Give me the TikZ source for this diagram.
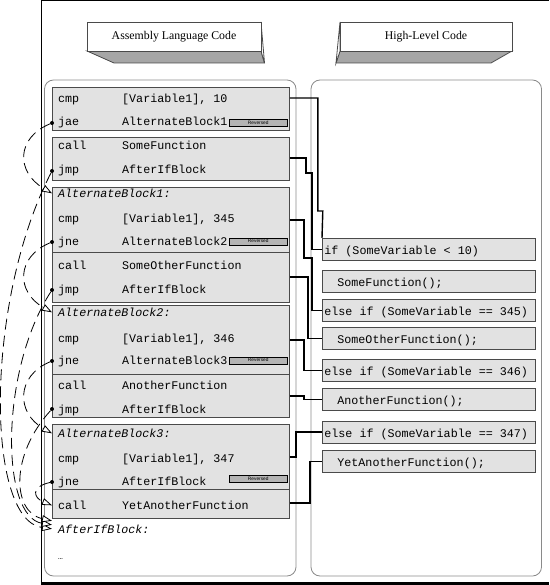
\documentclass[tikz,border=0pt]{standalone}
\usepackage{fontspec}
\setmainfont{Liberation Serif}
\setmonofont{Liberation Mono}
\setsansfont{Liberation Sans}
\usetikzlibrary{arrows.meta,calc}

\definecolor{blockgray}{HTML}{E2E2E2}
\definecolor{edgegray}{HTML}{4A4A4A}
\definecolor{panelgray}{HTML}{8A8A8A}
\definecolor{shadegray}{HTML}{A6A6A6}
\definecolor{taggray}{HTML}{B4B4B4}

\newcommand{\codefont}{\fontsize{11.7}{14}\selectfont\ttfamily}
\newcommand{\widespaces}{\spaceskip=0.6em\relax}

\begin{document}
\begin{tikzpicture}[x=1pt,y=-1pt,
	codeline/.style={anchor=base west,inner sep=0pt,font=\codefont},
	labelline/.style={anchor=base west,inner sep=0pt,font=\codefont\itshape},
	asmblock/.style={draw=edgegray,fill=blockgray,line width=0.8pt,anchor=north west,inner sep=0pt,minimum width=237pt},
	hllbox/.style={draw=edgegray,fill=blockgray,line width=0.8pt,anchor=north west,minimum height=22pt,text width=209pt,text height=11pt,text depth=0pt,inner xsep=2pt,inner ysep=0pt,align=left,font=\codefont,execute at begin node=\widespaces},
	revtag/.style={draw=black,fill=taggray,line width=0.5pt,anchor=north west,minimum width=58pt,minimum height=7pt,inner sep=0pt,font=\fontsize{4.8}{5}\selectfont\sffamily},
	jdot/.style={circle,fill=black,inner sep=0pt,minimum size=4pt},
	jumparc/.style={draw=black,line width=0.8pt,dash pattern=on 11pt off 6pt,-{Triangle[length=10pt,width=7pt,fill=white]}},
	wire/.style={draw=black,line width=1.4pt}]
		\useasboundingbox (0,0) rectangle (549,585);
		\def\opx{58}   % mnemonic column
		\def\argx{122} % operand column
		
		% frame
		\draw[line width=1pt] (41,583) -- (41,0.5) -- (549,0.5);
		\draw[line width=3pt] (41,583.5) -- (549,583.5);
		
		% headers
		\filldraw[draw=edgegray,fill=shadegray,line width=0.8pt] (87,51) -- (261,51) -- (264.5,63) -- (114,63) -- cycle;
		\filldraw[draw=edgegray,fill=white,line width=0.8pt] (261,22) -- (264.5,63) -- (261,51) -- cycle;
		\filldraw[draw=edgegray,fill=white,line width=0.8pt] (87,22) rectangle (261,51);
		\node[font=\fontsize{11.8}{14}\selectfont] (asmhead) at (174,36.5) {Assembly Language Code};
		\filldraw[draw=edgegray,fill=shadegray,line width=0.8pt] (340,51) -- (512,51) -- (491,63) -- (336,63) -- cycle;
		\filldraw[draw=edgegray,fill=white,line width=0.8pt] (340,22) -- (336,63) -- (340,51) -- cycle;
		\filldraw[draw=edgegray,fill=white,line width=0.8pt] (340,22) rectangle (512,51);
		\node[font=\fontsize{11.8}{14}\selectfont] (hllhead) at (426,36.5) {High-Level Code};
		
		% panels
		\draw[panelgray,rounded corners=9pt,line width=0.8pt] (44.5,80) rectangle (296,576);
		\draw[panelgray,rounded corners=9pt,line width=0.8pt] (311,80) rectangle (541.5,576);
		
		% assembly blocks
		\node[asmblock,minimum height=43pt] (blkA) at (52,87) {};
		\node[asmblock,minimum height=43pt] (blkB) at (52,137) {};
		\node[asmblock,minimum height=65pt] (blkC) at (52,187) {};
		\node[asmblock,minimum height=50pt] (blkD) at (52,252) {};
		\node[asmblock,minimum height=69pt] (blkE) at (52,305) {};
		\node[asmblock,minimum height=43pt] (blkF) at (52,374) {};
		\node[asmblock,minimum height=65pt] (blkG) at (52,424) {};
		\node[asmblock,minimum height=29pt] (blkH) at (52,489) {};
		
		\foreach \op/\arg/\y [count=\i] in {cmp/{[Variable1], 10}/102.5, jae/AlternateBlock1/126,
			call/SomeFunction/149.5, jmp/AfterIfBlock/174,
			cmp/{[Variable1], 345}/222, jne/AlternateBlock2/245,
			call/SomeOtherFunction/269.5, jmp/AfterIfBlock/293.5,
			cmp/{[Variable1], 346}/342, jne/AlternateBlock3/364,
			call/AnotherFunction/389.5, jmp/AfterIfBlock/413,
			cmp/{[Variable1], 347}/462, jne/AfterIfBlock/485,
			call/YetAnotherFunction/509.5}
		{
			\node[codeline] (op\i) at (\opx,\y) {\op};
			\node[codeline] (arg\i) at (\argx,\y) {\arg};
		}
		\node[labelline] (lab1) at (\opx,197.5) {AlternateBlock1:};
		\node[labelline] (lab2) at (\opx,316.5) {AlternateBlock2:};
		\node[labelline] (lab3) at (\opx,437.5) {AlternateBlock3:};
		\node[labelline] (lab4) at (\opx,533) {AfterIfBlock:};
		\node[codeline,font=\fontsize{8}{8}\selectfont\ttfamily] (more) at (\opx,559) {…};
		
		\node[revtag] (rev1) at (229,119) {Reversed};
		\node[revtag] (rev2) at (229,237.5) {Reversed};
		\node[revtag] (rev3) at (229,356.5) {Reversed};
		\node[revtag] (rev4) at (229,475) {Reversed};
		
		% high-level boxes
		\node[hllbox] (ifn) at (322,238) {if (SomeVariable < 10)};
		\node[hllbox] (sfn) at (322,270) {\hspace*{13pt}SomeFunction();};
		\node[hllbox] (eif1) at (322,299) {else if (SomeVariable == 345)};
		\node[hllbox] (sof) at (322,327) {\hspace*{13pt}SomeOtherFunction();};
		\node[hllbox] (eif2) at (322,359) {else if (SomeVariable == 346)};
		\node[hllbox] (anf) at (322,388) {\hspace*{13pt}AnotherFunction();};
		\node[hllbox] (eif3) at (322,420.5) {else if (SomeVariable == 347)};
		\node[hllbox] (yaf) at (322,450) {\hspace*{13pt}YetAnotherFunction();};
		
		% block to statement wires
		\draw[wire] ($(blkA.north east)+(0,11)$) -- ++(28,0) -- ++(0,113) -- ++(5,0) -- (ifn.north west);
		\draw[wire] ($(blkB.north east)+(0,21)$) -- ++(16,0) -- ++(0,15) -- ++(6,0) |- (ifn.west);
		\draw[wire] ($(blkC.north east)+(0,33)$) -- ++(14,0) -- ++(0,38) -- ++(8,0) |- (eif1.west);
		\draw[wire] ($(blkD.north east)+(0,25)$) -- ++(18,0) |- (sof.west);
		\draw[wire] ($(blkE.north east)+(0,35)$) -- ++(14,0) |- (eif2.west);
		\draw[wire] ($(blkF.north east)+(0,22)$) -- ++(14,0) |- (anf.west);
		\draw[wire] ($(blkG.north east)+(0,33)$) -- ++(6,0) |- (eif3.west);
		\draw[wire] ($(blkH.north east)+(0,14)$) -- ++(20,0) |- (yaf.west);
		
		% jump dots and arcs
		\node[jdot] (d1) at (52,123) {};
		\node[jdot] (d2) at (52,171) {};
		\node[jdot] (d3) at (52,242) {};
		\node[jdot] (d4) at (52,290) {};
		\node[jdot] (d5) at (52,361) {};
		\node[jdot] (d6) at (52,409) {};
		\node[jdot] (d7) at (52,482) {};
		\draw[jumparc] (d1) .. controls (16,138) and (16,172) .. ($(lab1.west)+(-6,0)$);
		\draw[jumparc] (d2) .. controls (-15,300) and (-15,520) .. ($(lab4.west)+(-6,0)$);
		\draw[jumparc] (d3) .. controls (16,257) and (16,292) .. ($(lab2.west)+(-6,0)$);
		\draw[jumparc] (d4) .. controls (0,370) and (0,517) .. ($(lab4.west)+(-6,-4)$);
		\draw[jumparc] (d5) .. controls (16,376) and (16,413) .. ($(lab3.west)+(-6,0)$);
		\draw[jumparc] (d6) .. controls (10,455) and (12,512) .. ($(lab4.west)+(-6,-8)$);
		\draw[jumparc] (d7) .. controls (30,487) and (34,498) .. ($(op15.west)+(-6,0)$);
		
\end{tikzpicture}
\end{document}
